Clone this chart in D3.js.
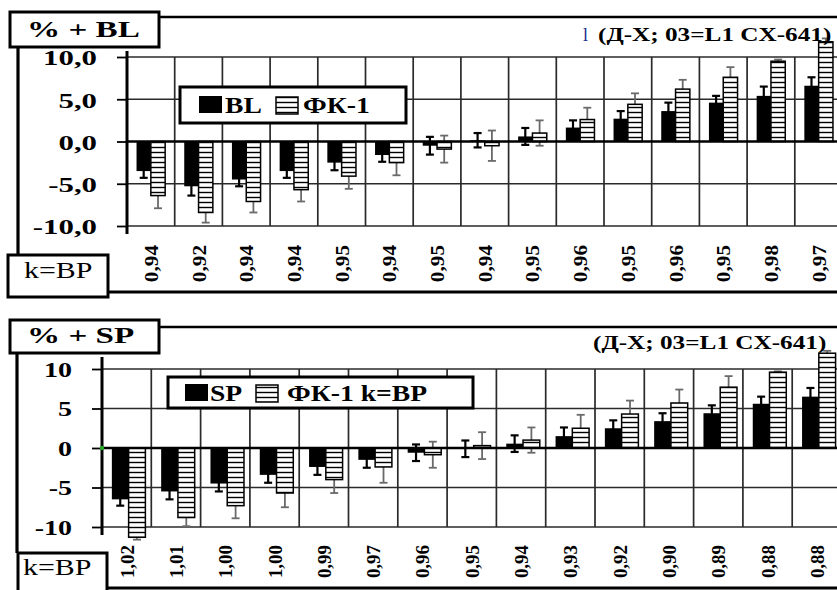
<!DOCTYPE html>
<html>
<head>
<meta charset="utf-8">
<script src="https://cdn.jsdelivr.net/npm/d3@7"></script>
<style>
  html, body { margin: 0; padding: 0; background: #fff; }
  svg { display: block; }
  text { font-family: "Liberation Serif", "Times New Roman", serif; fill: #000; }
</style>
</head>
<body>
<svg id="chart" width="837" height="590"></svg>
<script>
// ---- data: upper panel (BL vs ФК-1) ----
const blCategories = ["0,94","0,92","0,94","0,94","0,95","0,94","0,95","0,94","0,95","0,96","0,95","0,96","0,95","0,98","0,97"];
const blValues     = [-3.5, -5.3, -4.5, -3.5, -2.5, -1.6, -0.5, 0.15, 0.6, 1.65, 2.7, 3.6, 4.6, 5.4, 6.6];
const blErrors     = [0.8, 1.1, 0.8, 0.8, 0.9, 0.8, 1.05, 0.85, 1.0, 0.85, 0.9, 1.0, 0.8, 1.1, 1.0];
const fkBlValues   = [-6.4, -8.4, -7.1, -5.7, -4.1, -2.5, -0.9, -0.5, 1.0, 2.6, 4.4, 6.2, 7.6, 9.5, 11.8];
const fkBlErrors   = [1.5, 1.2, 1.3, 1.4, 1.5, 1.5, 1.6, 1.8, 1.5, 1.4, 1.3, 1.1, 1.2, 0.2, 0.4];

// ---- data: lower panel (SP vs ФК-1) ----
const spCategories = ["1,02","1,01","1,00","1,00","0,99","0,97","0,96","0,95","0,94","0,93","0,92","0,90","0,89","0,88","0,88"];
const spValues     = [-6.5, -5.5, -4.5, -3.4, -2.4, -1.5, -0.6, -0.1, 0.55, 1.5, 2.5, 3.4, 4.4, 5.6, 6.5];
const spErrors     = [0.8, 1.0, 1.0, 1.0, 1.0, 1.0, 1.05, 1.05, 1.05, 1.1, 1.0, 1.0, 1.0, 0.9, 1.1];
const fkSpValues   = [-11.3, -8.8, -7.3, -5.7, -4.0, -2.4, -0.85, 0.3, 1.0, 2.5, 4.3, 5.7, 7.7, 9.6, 12.0];
const fkSpErrors   = [0.3, 1.1, 1.6, 1.8, 1.7, 2.0, 1.65, 1.7, 1.6, 1.7, 1.7, 1.7, 1.4, 0.1, 0.3];

const yTicks = [-10, -5, 0, 5, 10];

const W = 837, H = 590;
const svg = d3.select("#chart");

// horizontal-line hatch used by the ФК-1 bars
const defs = svg.append("defs");
const hatch = defs.append("pattern").attr("id", "hatch")
  .attr("patternUnits", "userSpaceOnUse").attr("width", 8).attr("height", 5);
hatch.append("rect").attr("width", 8).attr("height", 5).attr("fill", "#fff");
hatch.append("line").attr("x1", 0).attr("x2", 8).attr("y1", 2.5).attr("y2", 2.5)
  .attr("stroke", "#000").attr("stroke-width", 1.4);

// widen glyphs horizontally (the typeface is set wide in this figure)
function stretch(sel, sx) {
  sel.each(function () {
    const w = this.getComputedTextLength();
    this.setAttribute("textLength", (w * sx).toFixed(1));
    this.setAttribute("lengthAdjust", "spacingAndGlyphs");
  });
}

const fmtDec = d3.formatLocale({ decimal: ",", thousands: " ", grouping: [3], currency: ["", ""], minus: "-" });

function panel(o) {
  const g = svg.append("g");
  const n = o.cats.length;
  const x = d3.scaleBand().domain(d3.range(n)).range([o.x0, o.x0 + n * o.bw]).padding(0);
  const sub = d3.scaleBand().domain(["a", "b"]).range([o.in0 * o.bw, o.in1 * o.bw]);
  const y = d3.scaleLinear().domain([-10, 10]).range([o.yBot, o.yTop]);

  // outer frame
  g.append("line").attr("x1", o.titleBox[0] + o.titleBox[2]).attr("x2", W)
    .attr("y1", o.frameTop).attr("y2", o.frameTop).attr("stroke", "#000").attr("stroke-width", 2.6);
  g.append("line").attr("x1", o.frameLeft).attr("x2", o.frameLeft)
    .attr("y1", o.titleBox[1] + o.titleBox[3]).attr("y2", o.kBox[1])
    .attr("stroke", "#000").attr("stroke-width", 3.2);
  g.append("line").attr("x1", o.kBox[0] + o.kBox[2]).attr("x2", W)
    .attr("y1", o.frameBot).attr("y2", o.frameBot).attr("stroke", "#000").attr("stroke-width", 3);

  // grid
  g.selectAll(".hgrid").data(yTicks.filter(t => t !== 0)).join("line")
    .attr("x1", o.x0).attr("x2", W)
    .attr("y1", d => y(d)).attr("y2", d => y(d))
    .attr("stroke", "#2a2a2a").attr("stroke-width", 1.7);
  g.selectAll(".vgrid").data(d3.range(n)).join("line")
    .attr("x1", i => x(i) + x.bandwidth()).attr("x2", i => x(i) + x.bandwidth())
    .attr("y1", y(10)).attr("y2", y(-10))
    .attr("stroke", "#2a2a2a").attr("stroke-width", 1.7);

  const rows = d3.range(n).map(i => ({
    i, a: o.valsA[i], ea: o.errsA[i], b: o.valsB[i], eb: o.errsB[i]
  }));

  // error bars (behind the bars)
  function errBars(key, ekey, s, color, w) {
    const eg = g.append("g");
    rows.forEach(r => {
      const cx = x(r.i) + sub(s) + sub.bandwidth() / 2;
      const lo = r[key] - r[ekey], hi = r[key] + r[ekey];
      eg.append("line").attr("x1", cx).attr("x2", cx).attr("y1", y(lo)).attr("y2", y(hi))
        .attr("stroke", color).attr("stroke-width", w);
      [lo, hi].forEach(v => eg.append("line").attr("x1", cx - 4).attr("x2", cx + 4)
        .attr("y1", y(v)).attr("y2", y(v)).attr("stroke", color).attr("stroke-width", w));
    });
  }
  errBars("a", "ea", "a", "#000", 2.2);
  errBars("b", "eb", "b", "#6a6a6a", 1.8);

  // bars
  g.selectAll(".barA").data(rows).join("rect")
    .attr("x", r => x(r.i) + sub("a")).attr("width", sub.bandwidth())
    .attr("y", r => y(Math.max(0, r.a))).attr("height", r => Math.abs(y(r.a) - y(0)))
    .attr("fill", "#000");
  g.selectAll(".barB").data(rows).join("rect")
    .attr("x", r => x(r.i) + sub("b")).attr("width", sub.bandwidth())
    .attr("y", r => y(Math.max(0, r.b))).attr("height", r => Math.abs(y(r.b) - y(0)))
    .attr("fill", "url(#hatch)").attr("stroke", "#000").attr("stroke-width", 1.5);

  // zero line
  g.append("line").attr("x1", o.x0).attr("x2", W).attr("y1", y(0)).attr("y2", y(0))
    .attr("stroke", "#000").attr("stroke-width", 2.6);

  // y axis
  const ax = g.append("g").attr("transform", `translate(${o.x0},0)`)
    .call(d3.axisLeft(y).tickValues(yTicks).tickSize(10).tickPadding(o.x0 - 10 - o.labelRight)
      .tickFormat(o.fmt));
  ax.select(".domain").remove();
  ax.selectAll(".tick line").attr("stroke", "#000").attr("stroke-width", 1.8);
  ax.selectAll(".tick text").attr("font-size", o.tickSize).attr("font-weight", "bold")
    .attr("font-family", "Liberation Serif, serif").attr("fill", "#000").attr("dy", "0.36em");
  stretch(ax.selectAll(".tick text"), 1.4);
  g.append("line").attr("x1", o.x0).attr("x2", o.x0)
    .attr("y1", y(10) - o.axisOver).attr("y2", y(-10) + 8)
    .attr("stroke", "#000").attr("stroke-width", 3);

  // category labels (rotated)
  const lab = g.selectAll(".xlab").data(rows).join("text")
    .attr("transform", r => `translate(${x(r.i) + x.bandwidth() / 2 + 7},${o.labelTop}) rotate(-90)`)
    .attr("text-anchor", "end").attr("font-size", 18).attr("font-weight", "bold")
    .text(r => o.cats[r.i]);
  stretch(lab, o.labSx);

  // title box
  const tb = o.titleBox;
  g.append("rect").attr("x", tb[0]).attr("y", tb[1]).attr("width", tb[2]).attr("height", tb[3])
    .attr("fill", "#fff").attr("stroke", "#000").attr("stroke-width", 3);
  const tt = g.append("text").attr("x", tb[0] + 17).attr("y", o.titleBase)
    .attr("font-size", 24).attr("font-weight", "bold").text(o.title);
  stretch(tt, 1.38);

  // k=BP box
  const kb = o.kBox;
  g.append("rect").attr("x", kb[0]).attr("y", kb[1]).attr("width", kb[2]).attr("height", kb[3])
    .attr("fill", "#fff").attr("stroke", "#000").attr("stroke-width", 3);
  const kt = g.append("text").attr("x", o.kText[0]).attr("y", o.kText[1])
    .attr("font-size", 23).text("k=BP");
  stretch(kt, 1.3);

  // source note, top right
  const nt = g.append("text").attr("x", o.note[0]).attr("y", o.note[1])
    .attr("font-size", 18).attr("font-weight", "bold").text("(Д-X; 03=L1 CX-641)");
  stretch(nt, 1.4);

  // legend
  const L = o.legend;
  g.append("rect").attr("x", L.box[0]).attr("y", L.box[1]).attr("width", L.box[2]).attr("height", L.box[3])
    .attr("fill", "#fff").attr("stroke", "#000").attr("stroke-width", 3);
  g.append("rect").attr("x", L.swA[0]).attr("y", L.swA[1]).attr("width", 23).attr("height", 17).attr("fill", "#000");
  g.append("rect").attr("x", L.swB[0]).attr("y", L.swB[1]).attr("width", 22).attr("height", 17)
    .attr("fill", "url(#hatch)").attr("stroke", "#000").attr("stroke-width", 1.5);
  const la = g.append("text").attr("x", L.txA[0]).attr("y", L.txA[1]).attr("font-size", 24)
    .attr("font-weight", "bold").text(o.nameA);
  stretch(la, 1.15);
  const lb = g.append("text").attr("x", L.txB[0]).attr("y", L.txB[1]).attr("font-size", 24)
    .attr("font-weight", "bold").text(o.nameB);
  stretch(lb, 1.15);
  return { g, x, y };
}

const upperPanel = panel({
  cats: blCategories, valsA: blValues, errsA: blErrors, valsB: fkBlValues, errsB: fkBlErrors,
  x0: 127, bw: 47.7, in0: 0.2, in1: 0.8, yTop: 57, yBot: 226,
  fmt: d => fmtDec.format(".1f")(d), labelRight: 97, tickSize: 22, axisOver: 6,
  labelTop: 245, labSx: 1.18,
  frameTop: 17, frameLeft: 18, frameBot: 292,
  titleBox: [10, 12, 149, 35], titleBase: 37, title: "% + BL",
  kBox: [8, 255, 100, 42], kText: [24, 278],
  note: [598, 41],
  legend: { box: [180, 87, 226, 36], swA: [199, 96], swB: [276, 97], txA: [225, 113], txB: [303, 113] },
  nameA: "BL", nameB: "ФК-1"
});
// small marker preceding the source note
upperPanel.g.append("text").attr("x", 583).attr("y", 41).attr("font-size", 18)
  .style("fill", "#1c2a8c").text("l");

const lowerPanel = panel({
  cats: spCategories, valsA: spValues, errsA: spErrors, valsB: fkSpValues, errsB: fkSpErrors,
  x0: 102, bw: 49.3, in0: 0.2, in1: 0.88, yTop: 369, yBot: 527,
  fmt: d => fmtDec.format("d")(d), labelRight: 72, tickSize: 20, axisOver: 12,
  labelTop: 545, labSx: 1.05,
  frameTop: 327, frameLeft: 17, frameBot: 588,
  titleBox: [10, 320, 149, 33], titleBase: 343, title: "% + SP",
  kBox: [18, 553, 89, 40], kText: [23, 575],
  note: [593, 349],
  legend: { box: [168, 377, 305, 31], swA: [185, 384], swB: [256, 385], txA: [210, 401], txB: [287, 401] },
  nameA: "SP", nameB: "ФК-1 k=BP"
});
// origin marker
lowerPanel.g.append("circle").attr("cx", 102).attr("cy", lowerPanel.y(0)).attr("r", 2.2).attr("fill", "#22aa22");
</script>
</body>
</html>
